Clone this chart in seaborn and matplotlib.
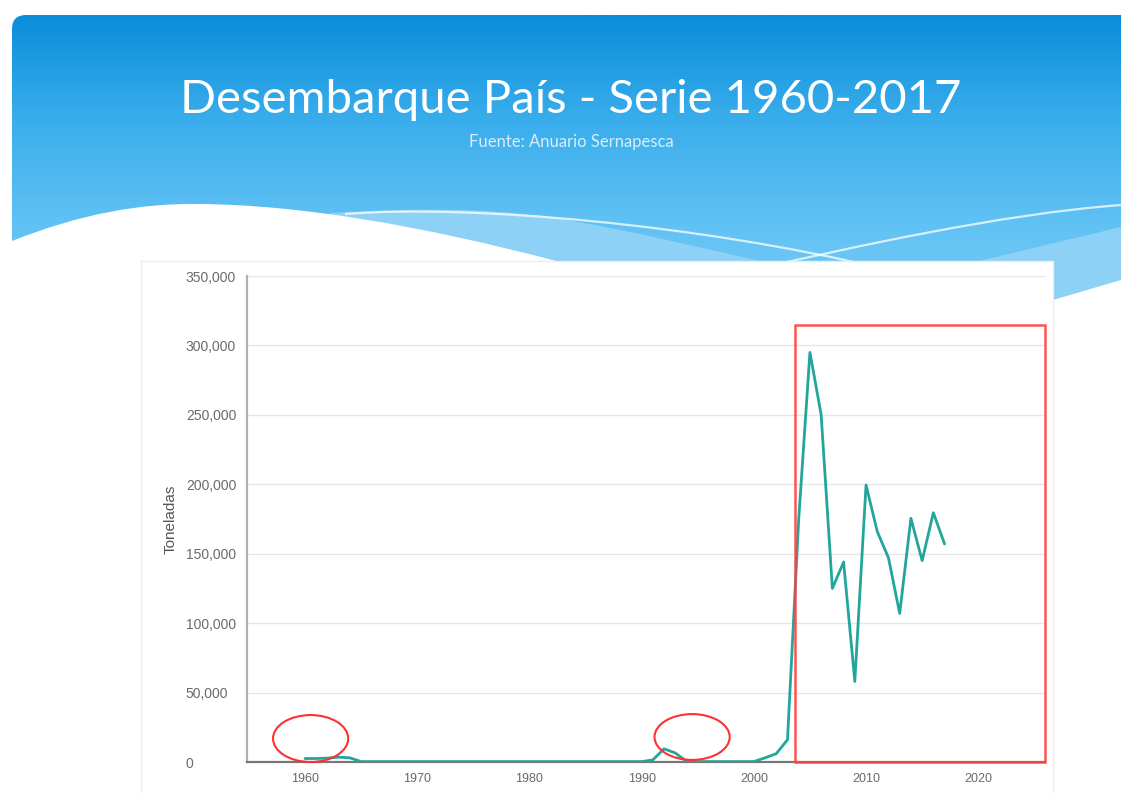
import numpy as np
import pandas as pd
import matplotlib
matplotlib.use('Agg')
import matplotlib.pyplot as plt
import seaborn as sns
from matplotlib.path import Path
from matplotlib.patches import PathPatch, FancyBboxPatch, Rectangle, Ellipse
from matplotlib.colors import LinearSegmentedColormap
from matplotlib.ticker import FuncFormatter

# data (toneladas por año)
years = list(range(1960, 2018))
landings = [
    2500, 2500, 2800, 3500, 3000, 300, 300, 300, 300, 300,      # 1960-1969
    300, 300, 300, 300, 300, 300, 300, 300, 300, 300,           # 1970-1979
    300, 300, 300, 300, 300, 300, 300, 300, 300, 300,           # 1980-1989
    300, 1500, 9500, 6500, 500, 300, 300, 300, 300, 300,        # 1990-1999
    300, 3000, 6000, 16000, 175000, 295000, 250000, 125000, 144000, 58000,  # 2000-2009
    199500, 166000, 147000, 107000, 175500, 145000, 179500, 157000,         # 2010-2017
]
y_ticks = [0, 50000, 100000, 150000, 200000, 250000, 300000, 350000]
x_ticks = [1960, 1970, 1980, 1990, 2000, 2010, 2020]

title = 'Desembarque País - Serie 1960-2017'
subtitle = 'Fuente: Anuario Sernapesca'

df = pd.DataFrame({'year': years, 'toneladas': landings})

sns.set_theme(style='white')
plt.rcParams['font.family'] = ['Liberation Sans', 'DejaVu Sans']

W, H = 1121, 793
fig = plt.figure(figsize=(W / 100, H / 100), dpi=100)
fig.patch.set_facecolor('white')

# background slide drawn in pixel coordinates
bg = fig.add_axes([0, 0, 1, 1])
bg.set_xlim(0, W)
bg.set_ylim(H, 0)
bg.axis('off')

# blue gradient header with rounded corner
header = FancyBboxPatch((12, 15), W + 40, 320, boxstyle='round,pad=0,rounding_size=14',
                        facecolor='none', edgecolor='none', transform=bg.transData)
bg.add_patch(header)
grad_cmap = LinearSegmentedColormap.from_list('hdr', ['#0a8ddb', '#3aaeec', '#62c2f4', '#7fcdf6'])
grad = np.linspace(0, 1, 256).reshape(-1, 1)
im = bg.imshow(grad, cmap=grad_cmap, aspect='auto', extent=(12, W, 335, 15), zorder=1)
im.set_clip_path(header)

# light blue band
band = Path([(330, 213), (420, 208), (480, 208), (550, 217),
             (640, 232), (720, 252), (776, 265),
             (950, 268), (1121, 227), (1121, 793), (330, 793), (330, 213)],
            [Path.MOVETO, Path.CURVE4, Path.CURVE4, Path.CURVE4,
             Path.CURVE4, Path.CURVE4, Path.CURVE4,
             Path.LINETO, Path.LINETO, Path.LINETO, Path.LINETO, Path.CLOSEPOLY])
bg.add_patch(PathPatch(band, facecolor='#8ed1f6', edgecolor='none', zorder=2))

# white wave
wave = Path([(12, 241), (80, 214), (140, 203), (200, 204),
             (300, 205), (420, 225), (560, 262),
             (1053, 262), (1053, 300), (1121, 280), (1121, 793), (12, 793), (12, 241)],
            [Path.MOVETO, Path.CURVE4, Path.CURVE4, Path.CURVE4,
             Path.CURVE4, Path.CURVE4, Path.CURVE4,
             Path.LINETO, Path.LINETO, Path.LINETO, Path.LINETO, Path.LINETO, Path.CLOSEPOLY])
bg.add_patch(PathPatch(wave, facecolor='white', edgecolor='none', zorder=3))

# thin white lines on the wave
t1 = Path([(345, 214), (470, 204), (700, 225), (880, 268)],
          [Path.MOVETO, Path.CURVE4, Path.CURVE4, Path.CURVE4])
t2 = Path([(760, 268), (850, 248), (1000, 214), (1121, 205)],
          [Path.MOVETO, Path.CURVE4, Path.CURVE4, Path.CURVE4])
for p in (t1, t2):
    bg.add_patch(PathPatch(p, facecolor='none', edgecolor='white', lw=1.6, alpha=0.75, zorder=4))

# white chart panel
bg.add_patch(Rectangle((141, 261), 912, 540, facecolor='white', edgecolor='#ececec', lw=1, zorder=5))

# titles
bg.text(571, 100, title, ha='center', va='center', color='white', fontsize=34,
        family=['Lato', 'DejaVu Sans'], zorder=6)
bg.text(571, 142, subtitle, ha='center', va='center', color='#d6eefc', fontsize=12,
        family=['Lato', 'DejaVu Sans'], zorder=6)

# chart axes: 1960 at x=305px, 10 years = 112.2px; 0 at y=762px, 350k at 276px
ax = fig.add_axes([247 / W, (H - 762) / H, 798 / W, 486 / H])
ax.set_facecolor('none')
ax.set_zorder(2)

sns.lineplot(data=df, x='year', y='toneladas', ax=ax, color='#22a69b', linewidth=2.0, zorder=3)

ax.set_xlim(1954.83, 2025.95)
ax.set_ylim(0, 350000)
ax.set_xticks(x_ticks)
ax.set_yticks(y_ticks)
ax.yaxis.set_major_formatter(FuncFormatter(lambda v, p: f'{v:,.0f}'))
ax.grid(axis='y', color='#e6e6e6', linewidth=1)
ax.grid(axis='x', visible=False)
ax.tick_params(axis='both', length=0, labelcolor='#6a6a6a')
ax.tick_params(axis='y', pad=44, labelsize=10)
ax.tick_params(axis='x', pad=8, labelsize=9)
for lbl in ax.get_yticklabels():
    lbl.set_horizontalalignment('left')

for s in ['top', 'right']:
    ax.spines[s].set_visible(False)
ax.spines['left'].set_color('#b0b0b0')
ax.spines['left'].set_linewidth(1.6)
ax.spines['bottom'].set_color('#777777')
ax.spines['bottom'].set_linewidth(1.6)

ax.set_xlabel('')
ax.set_ylabel('Toneladas', fontsize=11, color='#555555')
ax.yaxis.set_label_coords(-0.087, 0.5)

# red highlight marks
ax.add_patch(Rectangle((2003.67, 0), 2025.95 - 2003.67, 314700, fill=False,
                       edgecolor='#ff4040', lw=1.8, alpha=0.9, clip_on=False, zorder=4))
ax.add_patch(Ellipse((1960.5, 16900), 6.7, 33800, fill=False, edgecolor='#ff3030',
                     lw=1.5, clip_on=False, zorder=4))
ax.add_patch(Ellipse((1994.5, 18000), 6.7, 33000, fill=False, edgecolor='#ff3030',
                     lw=1.5, clip_on=False, zorder=4))

fig.savefig('out.png', dpi=100)
